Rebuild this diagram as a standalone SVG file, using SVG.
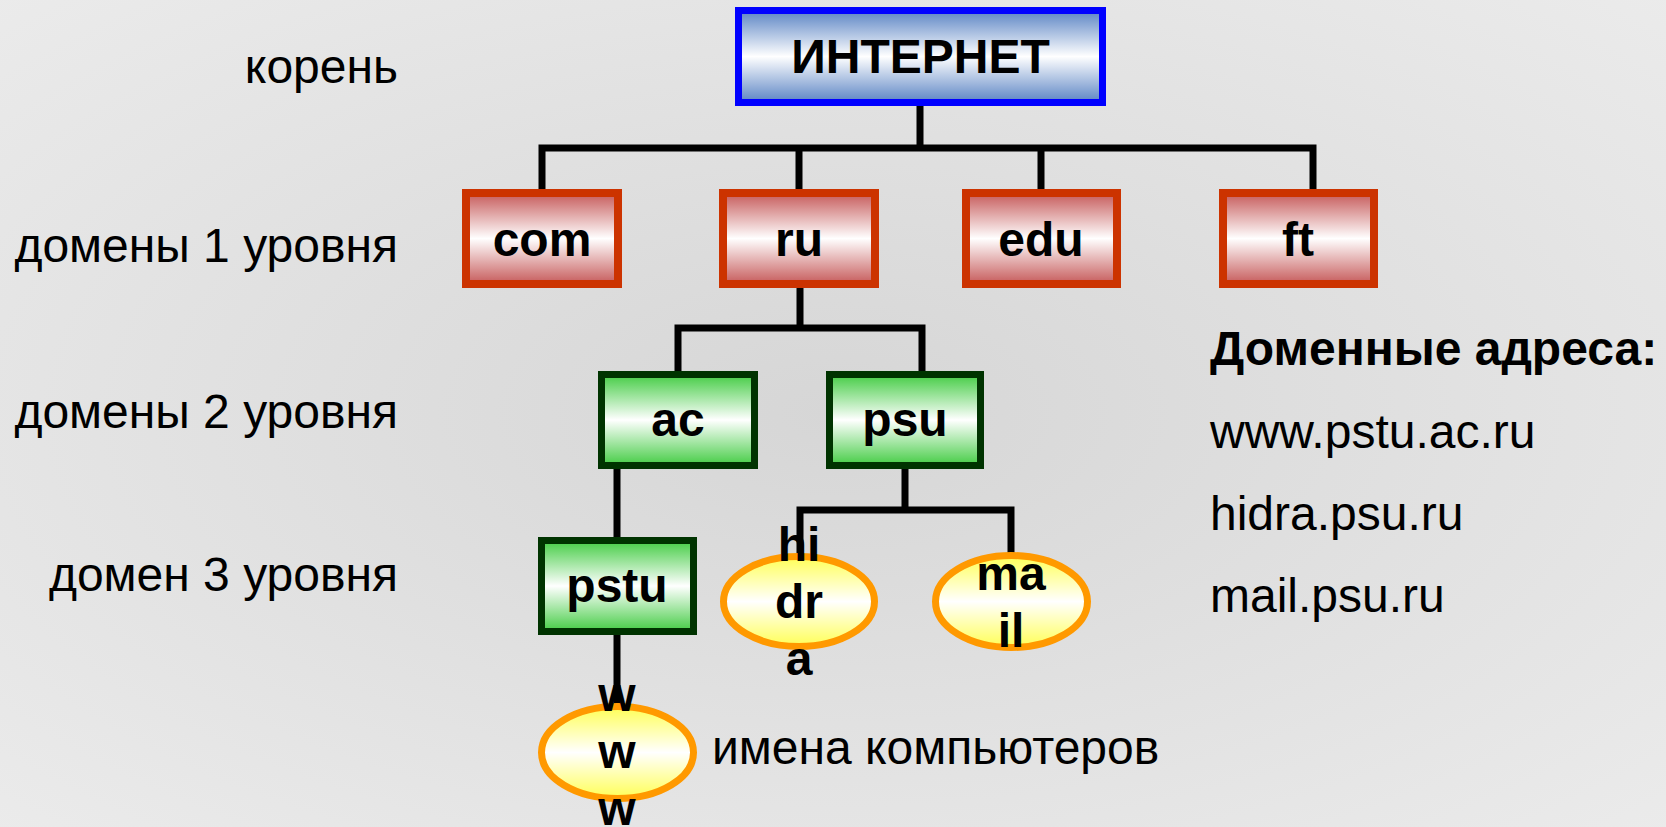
<svg xmlns="http://www.w3.org/2000/svg" width="1666" height="827" viewBox="0 0 1666 827">
<defs>
<radialGradient id="bg" cx="0.5" cy="0.5" r="0.75">
<stop offset="0" stop-color="#d6d6d6"/>
<stop offset="1" stop-color="#ececec"/>
</radialGradient>
<linearGradient id="gBlue" x1="0" y1="0" x2="0" y2="1">
<stop offset="0" stop-color="#5b84c4"/>
<stop offset="0.5" stop-color="#ffffff"/>
<stop offset="1" stop-color="#5b84c4"/>
</linearGradient>
<linearGradient id="gRed" x1="0" y1="0" x2="0" y2="1">
<stop offset="0" stop-color="#c65a5a"/>
<stop offset="0.5" stop-color="#ffffff"/>
<stop offset="1" stop-color="#c65a5a"/>
</linearGradient>
<linearGradient id="gGreen" x1="0" y1="0" x2="0" y2="1">
<stop offset="0" stop-color="#44cc44"/>
<stop offset="0.5" stop-color="#ffffff"/>
<stop offset="1" stop-color="#44cc44"/>
</linearGradient>
<linearGradient id="gYellow" x1="0" y1="0" x2="0" y2="1">
<stop offset="0" stop-color="#ffff55"/>
<stop offset="0.5" stop-color="#ffffff"/>
<stop offset="1" stop-color="#ffff55"/>
</linearGradient>
</defs>
<style>
.lbl{font-family:"Liberation Sans",Arial,sans-serif;font-size:48px;fill:#000}
.b{font-family:"Liberation Sans",Arial,sans-serif;font-size:48px;font-weight:bold;fill:#000;text-anchor:middle}
.conn{stroke:#000;stroke-width:7;fill:none;stroke-linecap:butt}
.blue{fill:url(#gBlue);stroke:#0000ff;stroke-width:7}
.red{fill:url(#gRed);stroke:#cc3300;stroke-width:8}
.green{fill:url(#gGreen);stroke:#003300;stroke-width:7}
.yel{fill:url(#gYellow);stroke:#ff9900;stroke-width:7}
</style>
<rect x="0" y="0" width="1666" height="827" fill="url(#bg)"/>

<g id="labels">
<text class="lbl" x="398" y="83" text-anchor="end">корень</text>
<text class="lbl" x="398" y="262" text-anchor="end">домены 1 уровня</text>
<text class="lbl" x="398" y="428" text-anchor="end">домены 2 уровня</text>
<text class="lbl" x="398" y="591" text-anchor="end">домен 3 уровня</text>
<text class="lbl" x="712" y="764">имена компьютеров</text>
<text class="lbl" x="1210" y="365" font-weight="bold">Доменные адреса:</text>
<text class="lbl" x="1210" y="448">www.pstu.ac.ru</text>
<text class="lbl" x="1210" y="530">hidra.psu.ru</text>
<text class="lbl" x="1210" y="612">mail.psu.ru</text>
</g>

<g id="connectors">
<path class="conn" d="M920 106V148M538.5 148H1316.5M542 148V189M799 148V189M1041 148V189M1313 148V189"/>
<path class="conn" d="M800 288V328M674.5 328H925.5M678 328V371M922 328V371"/>
<path class="conn" d="M617 469V537"/>
<path class="conn" d="M905 469V510M796.5 510H1014.5M800 510V556M1011 510V553"/>
<path class="conn" d="M617 635V706"/>
</g>

<g id="n-internet">
<rect class="blue" x="738.5" y="10.5" width="364" height="92"/>
<text class="b" x="920.5" y="73">ИНТЕРНЕТ</text>
</g>
<g id="n-com">
<rect class="red" x="466" y="193" width="152" height="91"/>
<text class="b" x="542" y="256">com</text>
</g>
<g id="n-ru">
<rect class="red" x="723" y="193" width="152" height="91"/>
<text class="b" x="799" y="256">ru</text>
</g>
<g id="n-edu">
<rect class="red" x="966" y="193" width="151" height="91"/>
<text class="b" x="1041" y="256">edu</text>
</g>
<g id="n-ft">
<rect class="red" x="1223" y="193" width="151" height="91"/>
<text class="b" x="1298" y="256">ft</text>
</g>
<g id="n-ac">
<rect class="green" x="601.5" y="374.5" width="153" height="91"/>
<text class="b" x="678" y="436">ac</text>
</g>
<g id="n-psu">
<rect class="green" x="829.5" y="374.5" width="151" height="91"/>
<text class="b" x="905" y="436">psu</text>
</g>
<g id="n-pstu">
<rect class="green" x="541.5" y="540.5" width="152" height="91"/>
<text class="b" x="617" y="602">pstu</text>
</g>
<g id="n-hidra">
<ellipse class="yel" cx="799" cy="601.5" rx="75.5" ry="45"/>
<text class="b" x="799" y="561">hi</text>
<text class="b" x="799" y="618">dr</text>
<text class="b" x="799" y="675">a</text>
</g>
<g id="n-mail">
<ellipse class="yel" cx="1011.5" cy="601.5" rx="76" ry="46"/>
<text class="b" x="1011" y="590">ma</text>
<text class="b" x="1011" y="647">il</text>
</g>
<g id="n-www">
<ellipse class="yel" cx="617.5" cy="752.5" rx="76" ry="46"/>
<text class="b" x="617" y="711">w</text>
<text class="b" x="617" y="768">w</text>
<text class="b" x="617" y="825">w</text>
</g>
</svg>
